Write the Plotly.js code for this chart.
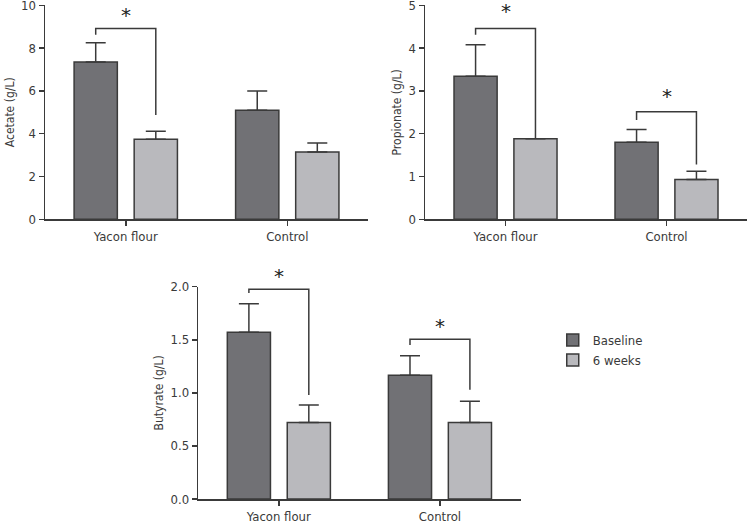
<!DOCTYPE html>
<html>
<head>
<meta charset="utf-8">
<script src="https://cdn.plot.ly/plotly-3.0.1.min.js"></script>
<style>html,body{margin:0;padding:0;background:#fff;}#chart{width:750px;height:521px;}</style>
</head>
<body>
<div id="chart"></div>
<script>
// ---- data ----
const categories = ['Yacon flour', 'Control'];
const seriesNames = ['Baseline', '6 weeks'];

const acetateBaseline = [7.35, 5.09];
const acetateBaselineErr = [0.90, 0.90];
const acetateWeeks6 = [3.74, 3.14];
const acetateWeeks6Err = [0.38, 0.43];

const propionateBaseline = [3.34, 1.80];
const propionateBaselineErr = [0.74, 0.30];
const propionateWeeks6 = [1.88, 0.93];
const propionateWeeks6Err = [0, 0.19];

const butyrateBaseline = [1.57, 1.165];
const butyrateBaselineErr = [0.27, 0.185];
const butyrateWeeks6 = [0.72, 0.72];
const butyrateWeeks6Err = [0.165, 0.20];

// significance brackets: [left leg end, top, right leg end]
const acetateBracketYacon = [8.62, 8.92, 4.87];
const propionateBracketYacon = [4.31, 4.46, 1.88];
const propionateBracketControl = [2.32, 2.51, 1.28];
const butyrateBracketYacon = [1.94, 1.975, 0.98];
const butyrateBracketControl = [1.45, 1.504, 1.03];
// star label heights (data units)
const acetateStarY = [9.72, null];
const propionateStarY = [4.95, 2.98];
const butyrateStarY = [2.14, 1.67];

const acetateRange = [0, 10];
const propionateRange = [0, 5];
const butyrateRange = [0, 2];
const acetateTicks = [0, 2, 4, 6, 8, 10];
const propionateTicks = [0, 1, 2, 3, 4, 5];
const butyrateTicks = [0, 0.5, 1.0, 1.5, 2.0];

// ---- style ----
const FONT = "'DejaVu Sans Condensed', 'Liberation Sans Narrow', sans-serif";
const TXT = '#3a3a3a';
const LINE = '#3a3a3a';
const COL_BASE = '#717175';
const COL_W6 = '#b9b9bd';
const BARGAP = 0.256;
const half = (1 - BARGAP) / 4; // bar centre offset from category centre

const xPos = categories.map((c, i) => i);

function barTrace(y, err, name, color, xa, ya, show) {
  return {
    type: 'bar', x: xPos, y: y, name: name, xaxis: xa, yaxis: ya,
    showlegend: show, legendgroup: name,
    marker: {color: color, line: {color: LINE, width: 1.5}},
    error_y: {type: 'data', symmetric: false, array: err, arrayminus: err.map(() => 0),
              color: LINE, thickness: 1.5, width: 10},
    hoverinfo: 'skip'
  };
}

function bracketTrace(catIdx, br, xa, ya) {
  const xl = catIdx - half, xr = catIdx + half;
  return {
    type: 'scatter', mode: 'lines', xaxis: xa, yaxis: ya, showlegend: false,
    x: [xl, xl, xr, xr], y: [br[0], br[1], br[1], br[2]],
    line: {color: LINE, width: 1.5}, cliponaxis: false, hoverinfo: 'skip'
  };
}

const traces = [
  barTrace(acetateBaseline, acetateBaselineErr, seriesNames[0], COL_BASE, 'x', 'y', true),
  barTrace(acetateWeeks6, acetateWeeks6Err, seriesNames[1], COL_W6, 'x', 'y', true),
  barTrace(propionateBaseline, propionateBaselineErr, seriesNames[0], COL_BASE, 'x2', 'y2', false),
  barTrace(propionateWeeks6, propionateWeeks6Err, seriesNames[1], COL_W6, 'x2', 'y2', false),
  barTrace(butyrateBaseline, butyrateBaselineErr, seriesNames[0], COL_BASE, 'x3', 'y3', false),
  barTrace(butyrateWeeks6, butyrateWeeks6Err, seriesNames[1], COL_W6, 'x3', 'y3', false),
  bracketTrace(0, acetateBracketYacon, 'x', 'y'),
  bracketTrace(0, propionateBracketYacon, 'x2', 'y2'),
  bracketTrace(1, propionateBracketControl, 'x2', 'y2'),
  bracketTrace(0, butyrateBracketYacon, 'x3', 'y3'),
  bracketTrace(1, butyrateBracketControl, 'x3', 'y3')
];

function xAxis(domain, anchor) {
  return {
    domain: domain, anchor: anchor, range: [-0.5, 1.5],
    tickvals: xPos, ticktext: categories, ticks: 'outside', ticklen: 5, tickwidth: 1.5, tickcolor: LINE,
    showline: true, linecolor: LINE, linewidth: 1.5, showgrid: false, zeroline: false,
    tickfont: {family: FONT, size: 13, color: TXT}, ticklabeloverflow: 'allow', fixedrange: true
  };
}
function yAxis(domain, anchor, range, vals, title, fmt) {
  return {
    domain: domain, anchor: anchor, range: range, tickvals: vals, tickformat: fmt,
    ticks: 'outside', ticklen: 5, tickwidth: 1.5, tickcolor: LINE,
    showline: true, linecolor: LINE, linewidth: 1.5, showgrid: false, zeroline: false,
    tickfont: {family: FONT, size: 13, color: TXT}, ticklabeloverflow: 'allow',
    title: {text: title, font: {family: FONT, size: 12, color: TXT}, standoff: 4},
    fixedrange: true
  };
}

const topDom = [0.5791, 0.9898];
const botDom = [0.0422, 0.4497];

const annotations = [];
[[acetateStarY, acetateRange, 'x', 'y'], [propionateStarY, propionateRange, 'x2', 'y2'],
 [butyrateStarY, butyrateRange, 'x3', 'y3']].forEach(([ys, rg, xr, yr]) => {
  ys.forEach((v, i) => {
    if (v === null) return;
    annotations.push({
      x: i, xref: xr, y: (v - rg[0]) / (rg[1] - rg[0]), yref: yr + ' domain',
      text: '*', showarrow: false, yanchor: 'middle', yshift: -4,
      font: {family: 'DejaVu Sans', size: 20, color: '#222'}
    });
  });
});

const layout = {
  width: 750, height: 521,
  margin: {l: 0, r: 0, t: 0, b: 0},
  paper_bgcolor: '#fff', plot_bgcolor: '#fff',
  barmode: 'group', bargap: BARGAP, bargroupgap: 0.28,
  font: {family: FONT, color: TXT},
  xaxis: xAxis([0.0600, 0.4907], 'y'),
  yaxis: yAxis(topDom, 'x', acetateRange, acetateTicks, 'Acetate (g/L)'),
  xaxis2: xAxis([0.5667, 0.9960], 'y2'),
  yaxis2: yAxis(topDom, 'x2', propionateRange, propionateTicks, 'Propionate (g/L)'),
  xaxis3: xAxis([0.2644, 0.6940], 'y3'),
  yaxis3: yAxis(botDom, 'x3', butyrateRange, butyrateTicks, 'Butyrate (g/L)', '.1f'),
  legend: {x: 0.737, y: 0.376, xanchor: 'left', yanchor: 'top',
           font: {family: FONT, size: 13, color: TXT}, bgcolor: 'rgba(0,0,0,0)', tracegroupgap: 0},
  annotations: annotations,
  showlegend: true
};

Plotly.newPlot('chart', traces, layout, {displayModeBar: false, staticPlot: true});
</script>
</body>
</html>
